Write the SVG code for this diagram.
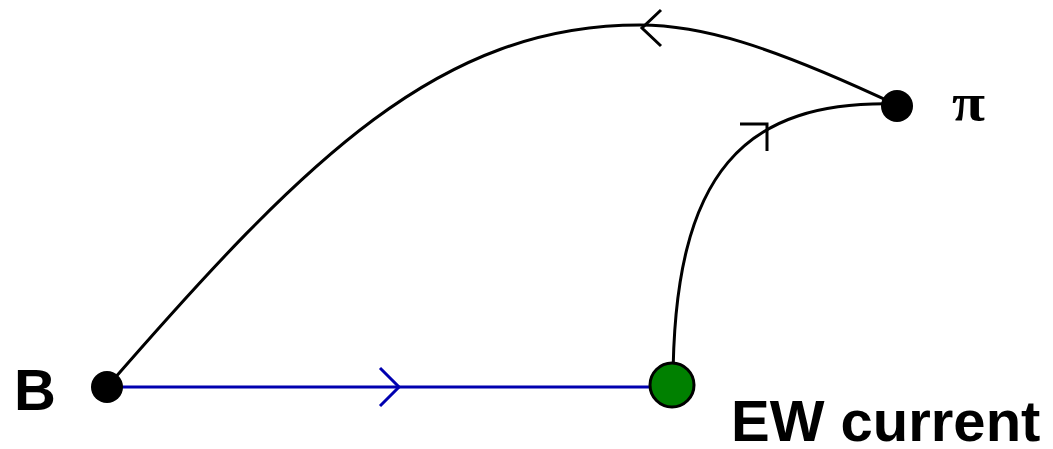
<svg xmlns="http://www.w3.org/2000/svg" width="1053" height="449" viewBox="0 0 1053 449">
<style>
.line{fill:none;stroke:#000;stroke-width:3}
.blue{fill:none;stroke:#0000b0;stroke-width:3}
.lbl{font-family:"Liberation Sans",Arial,sans-serif;font-weight:bold;font-size:58px;fill:#000}
.pi{font-family:"Liberation Serif","Times New Roman",serif;font-weight:bold;font-size:52px;fill:#000}
</style>
<rect width="1053" height="449" fill="#fff"/>
<g id="connectors">
<path class="line" d="M107,387 C307,157 440,25 640,25 C700,25 767,44 897,105"/>
<polyline class="line" points="661,10 642,28 661,46"/>
<path class="line" d="M673,385 C673,170 745,100 897,104"/>
<polyline class="line" points="740,124 767,124 767,151"/>
<line class="blue" x1="107" y1="387" x2="652" y2="387"/>
<polyline class="blue" points="380,368 399,387 380,406"/>
</g>
<g id="node-B">
<circle cx="107" cy="387" r="16" fill="#000"/>
<text class="lbl" x="14" y="410">B</text>
</g>
<g id="node-pi">
<circle cx="897" cy="106" r="16" fill="#000"/>
<text class="pi" x="952" y="120" textLength="33" lengthAdjust="spacingAndGlyphs">π</text>
</g>
<g id="node-EW">
<circle cx="672" cy="385" r="22" fill="#008000" stroke="#000" stroke-width="3"/>
<text class="lbl" x="731" y="441">EW current</text>
</g>
</svg>
